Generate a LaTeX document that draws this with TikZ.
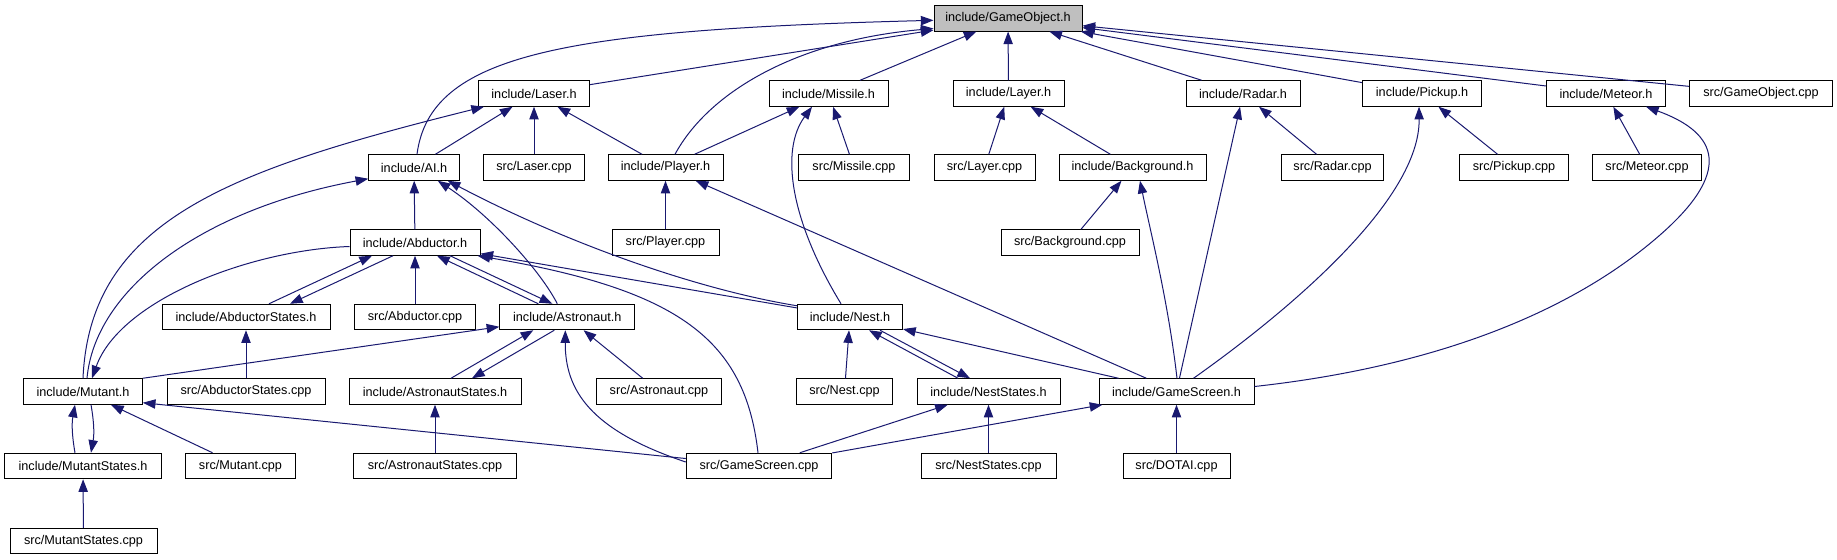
\documentclass[tikz,border=0pt]{standalone}
\usepackage{fontspec}
\setmainfont{Liberation Sans}
\usetikzlibrary{arrows.meta,calc}
\definecolor{edgec}{HTML}{191970}
\definecolor{rootfill}{HTML}{BFBFBF}
\begin{document}
\begin{tikzpicture}[x=0.75pt,y=-0.75pt,
  box/.style={draw=black,line width=0.75pt,fill=white,inner sep=0pt,minimum height=19.1pt,font=\fontsize{9.5}{11}\selectfont},
  bw/.style={minimum width=#1*0.75pt},
  edge/.style={draw=edgec,line width=0.75pt,-{Triangle[length=9.5pt,width=7pt]}},
]
\fill[white] (0,0) rectangle (1837,560);
\useasboundingbox (0,0) rectangle (1837,560);
% nodes
\node[box,bw=148,fill=rootfill] (go) at (1008,18.3) {include/GameObject.h};
\node[box,bw=111] (laser) at (534,93.5) {include/Laser.h};
\node[box,bw=119] (missile) at (828.5,93.5) {include/Missile.h};
\node[box,bw=111] (layer) at (1008.5,93.5) {include/Layer.h};
\node[box,bw=114] (radar) at (1243,93.5) {include/Radar.h};
\node[box,bw=119] (pickup) at (1422,93.5) {include/Pickup.h};
\node[box,bw=119] (meteor) at (1606,93.5) {include/Meteor.h};
\node[box,bw=143.5] (gocpp) at (1761,93.5) {src/GameObject.cpp};
\node[box,bw=90.5] (ai) at (414,167.5) {include/AI.h};
\node[box,bw=101.5] (lasercpp) at (534,167.5) {src/Laser.cpp};
\node[box,bw=115] (player) at (665.5,167.5) {include/Player.h};
\node[box,bw=110.5] (missilecpp) at (854,167.5) {src/Missile.cpp};
\node[box,bw=101] (layercpp) at (984.5,167.5) {src/Layer.cpp};
\node[box,bw=147] (background) at (1132.5,167.5) {include/Background.h};
\node[box,bw=102.5] (radarcpp) at (1332.5,167.5) {src/Radar.cpp};
\node[box,bw=109.5] (pickupcpp) at (1514,167.5) {src/Pickup.cpp};
\node[box,bw=109.5] (meteorcpp) at (1647,167.5) {src/Meteor.cpp};
\node[box,bw=130] (abductor) at (415,242.5) {include/Abductor.h};
\node[box,bw=107] (playercpp) at (665.5,242.5) {src/Player.cpp};
\node[box,bw=138] (backgroundcpp) at (1070,242.5) {src/Background.cpp};
\node[box,bw=168] (abdstates) at (246,317) {include/AbductorStates.h};
\node[box,bw=121] (abdcpp) at (415,317) {src/Abductor.cpp};
\node[box,bw=135] (astronaut) at (567.3,317) {include/Astronaut.h};
\node[box,bw=105] (nest) at (850,317) {include/Nest.h};
\node[box,bw=118.6] (mutant) at (83,391.5) {include/Mutant.h};
\node[box,bw=158] (abdstatescpp) at (246,391.5) {src/AbductorStates.cpp};
\node[box,bw=172] (aststates) at (435,391.5) {include/AstronautStates.h};
\node[box,bw=125.5] (astcpp) at (659,391.5) {src/Astronaut.cpp};
\node[box,bw=96] (nestcpp) at (844.5,391.5) {src/Nest.cpp};
\node[box,bw=143] (neststates) at (988.5,391.5) {include/NestStates.h};
\node[box,bw=155] (gamescreen) at (1176.5,391.5) {include/GameScreen.h};
\node[box,bw=156.6] (mutstates) at (83,466) {include/MutantStates.h};
\node[box,bw=109.5] (mutcpp) at (240.5,466) {src/Mutant.cpp};
\node[box,bw=162.5] (aststatescpp) at (435,466) {src/AstronautStates.cpp};
\node[box,bw=145.5] (gscpp) at (759,466) {src/GameScreen.cpp};
\node[box,bw=135] (neststatescpp) at (988.5,466) {src/NestStates.cpp};
\node[box,bw=107] (dotaicpp) at (1176.5,466) {src/DOTAI.cpp};
\node[box,bw=147] (mutstatescpp) at (83.5,541) {src/MutantStates.cpp};
% straight edges
\foreach \c/\p in {laser/go,missile/go,layer/go,radar/go,pickup/go,meteor/go,gocpp/go,
  ai/laser,lasercpp/laser,player/laser,player/missile,missilecpp/missile,
  layercpp/layer,background/layer,radarcpp/radar,gamescreen/radar,
  pickupcpp/pickup,meteorcpp/meteor,abductor/ai,playercpp/player,gamescreen/player,
  backgroundcpp/background,abdcpp/abductor,nest/abductor,abdstatescpp/abdstates,
  astcpp/astronaut,nestcpp/nest,gamescreen/nest,mutcpp/mutant,aststatescpp/aststates,
  neststatescpp/neststates,gscpp/neststates,dotaicpp/gamescreen,gscpp/gamescreen,
  mutstatescpp/mutstates}
  \draw[edge] (\c) -- (\p);
\draw[edge] (mutant.north east) -- (astronaut);
\draw[edge] (gscpp) -- ($(mutant.south east)+(0,-2)$);
% mutual pairs
\draw[edge] ($(abdstates.north)+(23,0)$) -- ($(abductor.south)+(-43,0)$);
\draw[edge] ($(abductor.south)+(-22,0)$) -- ($(abdstates.north)+(44,0)$);
\draw[edge] ($(astronaut.north)+(-29,0)$) -- ($(abductor.south)+(22,0)$);
\draw[edge] ($(abductor.south)+(35,0)$) -- ($(astronaut.north)+(-15,0)$);
\draw[edge] ($(aststates.north)+(16,0)$) -- ($(astronaut.south)+(-34,0)$);
\draw[edge] ($(astronaut.south)+(-13,0)$) -- ($(aststates.north)+(37,0)$);
\draw[edge] ($(neststates.north)+(-30.5,0)$) -- ($(nest.south)+(19,0)$);
\draw[edge] ($(nest.south)+(30,0)$) -- ($(neststates.north)+(-18.5,0)$);
\draw[edge] ($(mutstates.north)+(-8,0)$) to[bend left=10] ($(mutant.south)+(-8,0)$);
\draw[edge] ($(mutant.south)+(8,0)$) to[bend left=10] ($(mutstates.north)+(8,0)$);
% curved edges
\draw[edge] ($(ai.north)+(3,0)$) .. controls (430,55) and (560,30) .. ($(go.west)+(0,2)$);
\draw[edge] ($(player.north)+(9.5,0)$) .. controls (710,90) and (800,40) .. ($(go.south west)+(0,-3)$);
\draw[edge] (mutant.north) .. controls (90,220) and (230,170) .. ($(laser.south west)+(6,0)$);
\draw[edge] ($(mutant.north)+(4,0)$) .. controls (95,290) and (200,210) .. ($(ai.south west)+(0,-2)$);
\draw[edge] ($(abductor.west)+(0,4)$) .. controls (250,250) and (120,300) .. ($(mutant.north)+(9,0)$);
\draw[edge] ($(astronaut.north)+(-10,0)$) .. controls (540,270) and (490,215) .. ($(ai.south east)+(-22,0)$);
\draw[edge] ($(nest.north west)+(0,2)$) .. controls (700,290) and (570,245) .. ($(ai.south east)+(-12,0)$);
\draw[edge] ($(nest.north)+(-9,0)$) .. controls (790,220) and (780,150) .. ($(missile.south)+(-16.5,0)$);
\draw[edge] ($(gamescreen.north)+(17,0)$) .. controls (1290,310) and (1420,200) .. ($(pickup.south)+(-3,0)$);
\draw[edge] ($(gamescreen.east)+(0,-5)$) .. controls (1450,365) and (1580,305) .. (1660,235) .. controls (1740,165) and (1710,130) .. ($(meteor.south east)+(-20,0)$);
\draw[edge] ($(gamescreen.north)+(0.5,0)$) .. controls (1168,300) and (1150,230) .. ($(background.south)+(7.5,0)$);
\draw[edge] ($(gscpp.north)+(-1,0)$) .. controls (745,340) and (680,290) .. ($(abductor.south east)+(-3,0)$);
\draw[edge] ($(gscpp.west)+(0,-4)$) .. controls (590,430) and (565,390) .. ($(astronaut.south)+(-2,0)$);
\end{tikzpicture}
\end{document}
